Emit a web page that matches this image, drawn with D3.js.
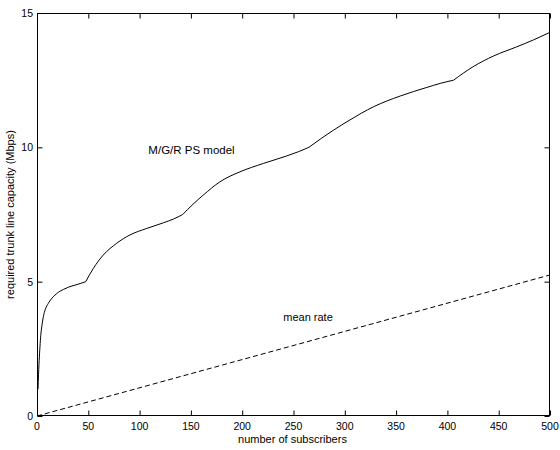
<!DOCTYPE html>
<html>
<head>
<meta charset="utf-8">
<script src="https://cdn.jsdelivr.net/npm/d3@7"></script>
<style>
  html, body { margin: 0; padding: 0; background: #fff; }
  svg { display: block; }
  text { font-family: "Liberation Sans", Arial, Helvetica, sans-serif; fill: #000; }
</style>
</head>
<body>
<svg id="chart" width="560" height="450"></svg>
<script>
// ---- data ----
const subscribers = [1, 1.5, 2.3, 3.1, 3.9, 5, 6.2, 8, 11, 14, 17.5, 21, 25.7, 31, 37, 42, 47.5,
  55, 64.6, 77.7, 90.6, 106.9, 123.1, 133, 142,
  152, 162, 178.4, 197.9, 220.6, 243.4, 255, 265,
  277, 289, 305, 328, 354, 380, 393, 406,
  425, 445, 467.5, 484, 500];
const psModel = [1.0, 1.55, 2.2, 2.7, 3.09, 3.42, 3.7, 3.96, 4.19, 4.36, 4.5, 4.61, 4.71, 4.8, 4.87, 4.93, 5.0,
  5.5, 5.99, 6.43, 6.74, 6.98, 7.19, 7.33, 7.5,
  7.88, 8.22, 8.72, 9.09, 9.4, 9.68, 9.84, 10.0,
  10.33, 10.64, 11.02, 11.51, 11.91, 12.23, 12.38, 12.5,
  13.0, 13.4, 13.74, 14.0, 14.28];
const kinkSubscribers = [47.5, 142, 265, 406];
const meanX = [0, 500];
const meanRate = [0, 5.25];
const xTicks = [0, 50, 100, 150, 200, 250, 300, 350, 400, 450, 500];
const yTicks = [0, 5, 10, 15];
const xLabel = "number of subscribers";
const yLabel = "required trunk line capacity (Mbps)";
const psLabel = "M/G/R PS model";
const meanLabel = "mean rate";

// ---- layout ----
const svg = d3.select("#chart");
const L = 37, R = 550, T = 13, B = 416;
const x = d3.scaleLinear().domain([0, 500]).range([L, R]);
const y = d3.scaleLinear().domain([0, 15]).range([B, T]);
const tickLen = 5;
const fs = 11;

// box
svg.append("rect").attr("x", L + 0.5).attr("y", T + 0.5)
  .attr("width", R - L - 1).attr("height", B - T - 1)
  .attr("fill", "none").attr("stroke", "#000").attr("stroke-width", 1);

// axes (inward ticks) using d3 axes
const xb = svg.append("g").attr("transform", `translate(0,${B - 0.5})`)
  .call(d3.axisTop(x).tickValues(xTicks).tickSize(tickLen).tickFormat(""));
const xt = svg.append("g").attr("transform", `translate(0,${T + 0.5})`)
  .call(d3.axisBottom(x).tickValues(xTicks).tickSize(tickLen).tickFormat(""));
const yl = svg.append("g").attr("transform", `translate(${L + 0.5},0)`)
  .call(d3.axisRight(y).tickValues(yTicks).tickSize(tickLen).tickFormat(""));
const yr = svg.append("g").attr("transform", `translate(${R - 0.5},0)`)
  .call(d3.axisLeft(y).tickValues(yTicks).tickSize(tickLen).tickFormat(""));
[xb, xt, yl, yr].forEach(g => {
  g.select(".domain").remove();
  g.selectAll("line").attr("stroke", "#000").attr("stroke-width", 1);
});

// tick labels
svg.append("g").selectAll("text").data(xTicks).join("text")
  .attr("x", d => x(d)).attr("y", 430)
  .attr("text-anchor", "middle").attr("font-size", 10.5)
  .text(d => d);
svg.append("g").selectAll("text").data(yTicks).join("text")
  .attr("x", L - 4).attr("y", d => y(d) + 4)
  .attr("text-anchor", "end").attr("font-size", 10.5)
  .text(d => d);

// axis titles
svg.append("text").attr("x", 292.5).attr("y", 442.5)
  .attr("text-anchor", "middle").attr("font-size", fs).text(xLabel);
svg.append("text")
  .attr("transform", `translate(14,${(T + B) / 2}) rotate(-90)`)
  .attr("text-anchor", "middle").attr("font-size", fs).text(yLabel);

// PS model curve: smooth pieces joined at kinks
const pts = subscribers.map((s, i) => [s, psModel[i]]);
const segments = [];
let cur = [];
pts.forEach(p => {
  cur.push(p);
  if (kinkSubscribers.includes(p[0])) { segments.push(cur); cur = [p]; }
});
if (cur.length > 1) segments.push(cur);
const smooth = d3.line().x(d => x(d[0])).y(d => y(d[1])).curve(d3.curveMonotoneX);
const pathD = segments.map((seg, i) => {
  const d = smooth(seg);
  return i === 0 ? d : d.replace(/^M[^A-Za-z]*/, "L" + x(seg[0][0]) + "," + y(seg[0][1]));
}).join("");
svg.append("path").attr("d", pathD)
  .attr("fill", "none").attr("stroke", "#000").attr("stroke-width", 1)
  .attr("stroke-linejoin", "round");

// mean rate
const line = d3.line().x(d => x(d[0])).y(d => y(d[1]));
svg.append("path")
  .datum(meanX.map((s, i) => [s, meanRate[i]]))
  .attr("d", line).attr("fill", "none").attr("stroke", "#000").attr("stroke-width", 1)
  .attr("stroke-dasharray", "5,3");

// annotations
svg.append("text").attr("x", 191.5).attr("y", 153.5)
  .attr("text-anchor", "middle").attr("font-size", 11.5).text(psLabel);
svg.append("text").attr("x", 308).attr("y", 321)
  .attr("text-anchor", "middle").attr("font-size", fs).text(meanLabel);
</script>
</body>
</html>
